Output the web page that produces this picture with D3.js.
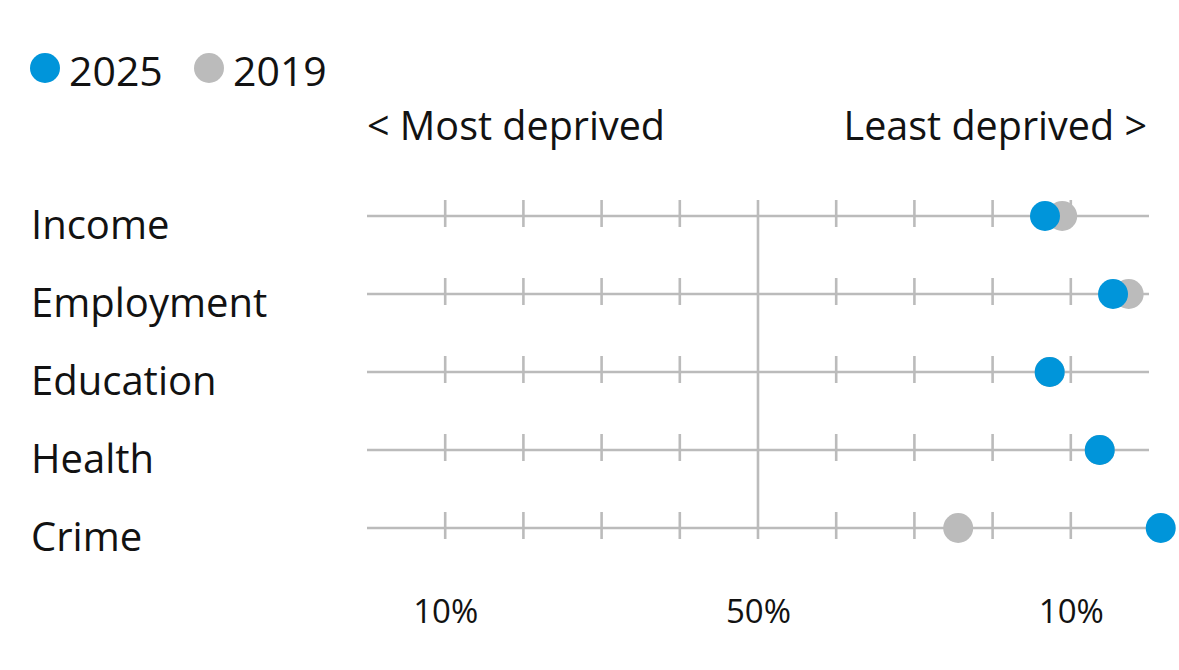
<!DOCTYPE html>
<html><head><meta charset="utf-8">
<script src="https://cdn.jsdelivr.net/npm/d3@7"></script>
<style>
html,body{margin:0;padding:0;background:#fff;}
svg{display:block;font-family:"Open Sans",sans-serif;}
</style></head>
<body>
<svg id="chart" width="1179" height="670"></svg>
<script>
const categories = ["Income","Employment","Education","Health","Crime"];
const values2025 = [8.67, 9.54, 8.73, 9.37, 10.15];
const values2019 = [8.89, 9.74, 8.73, 9.37, 7.56];
const seriesNames = ["2025","2019"];
const seriesColors = ["#0095da","#bbbbbb"];
const gridTicks = [1,2,3,4,6,7,8,9];
const axisTickValues = [1,5,9];
const axisTickLabels = ["10%","50%","10%"];
const midValue = 5;

const svg = d3.select("#chart");
const textColor = "#121212";
const lineColor = "#bbbbbb";

const x = d3.scaleLinear().domain([0,10]).range([367,1149]);
const y = d3.scalePoint().domain(categories).range([216,528]);

// legend
const legend = svg.append("g");
const legX = [45, 209];
seriesNames.forEach((s,i)=>{
  legend.append("circle").attr("cx",legX[i]).attr("cy",68).attr("r",15).attr("fill",seriesColors[i]);
  legend.append("text").attr("x",legX[i]+24).attr("y",86).attr("font-size",41).attr("fill",textColor).text(s);
});

// direction labels
svg.append("text").attr("x",x(0)).attr("y",140).attr("font-size",39.5).attr("fill",textColor).text("< Most deprived");
svg.append("text").attr("x",x(10)-2).attr("y",140).attr("text-anchor","end").attr("font-size",39.5).attr("fill",textColor).text("Least deprived >");

// rows
const rows = svg.append("g").selectAll("g").data(categories).join("g")
  .attr("transform",d=>`translate(0,${y(d)})`);
rows.append("line").attr("x1",x(0)).attr("x2",x(10)).attr("stroke",lineColor).attr("stroke-width",2.6);
rows.selectAll("line.tick").data(gridTicks).join("line").attr("class","tick")
  .attr("x1",d=>x(d)).attr("x2",d=>x(d)).attr("y1",-16).attr("y2",11)
  .attr("stroke",lineColor).attr("stroke-width",2.6);
rows.append("text").attr("x",31).attr("y",23).attr("font-size",40).attr("fill",textColor).text(d=>d);

// midline
svg.append("line").attr("x1",x(midValue)).attr("x2",x(midValue))
  .attr("y1",y(categories[0])-16).attr("y2",y(categories[categories.length-1])+11)
  .attr("stroke",lineColor).attr("stroke-width",2.6);

// dots
const dots = svg.append("g");
dots.selectAll("circle.s2019").data(categories).join("circle").attr("class","s2019")
  .attr("cx",(d,i)=>x(values2019[i])).attr("cy",d=>y(d)).attr("r",15).attr("fill",seriesColors[1]);
dots.selectAll("circle.s2025").data(categories).join("circle").attr("class","s2025")
  .attr("cx",(d,i)=>x(values2025[i])).attr("cy",d=>y(d)).attr("r",15).attr("fill",seriesColors[0]);

// bottom axis
const axis = d3.axisBottom(x).tickValues(axisTickValues)
  .tickFormat((d,i)=>axisTickLabels[i]).tickSize(0).tickPadding(0);
const ag = svg.append("g").attr("transform","translate(0,598)").call(axis);
ag.select(".domain").remove();
ag.selectAll("text").attr("font-size",33).attr("font-family","'Open Sans',sans-serif").attr("fill",textColor).attr("dy","0.75em");
</script>
</body></html>
